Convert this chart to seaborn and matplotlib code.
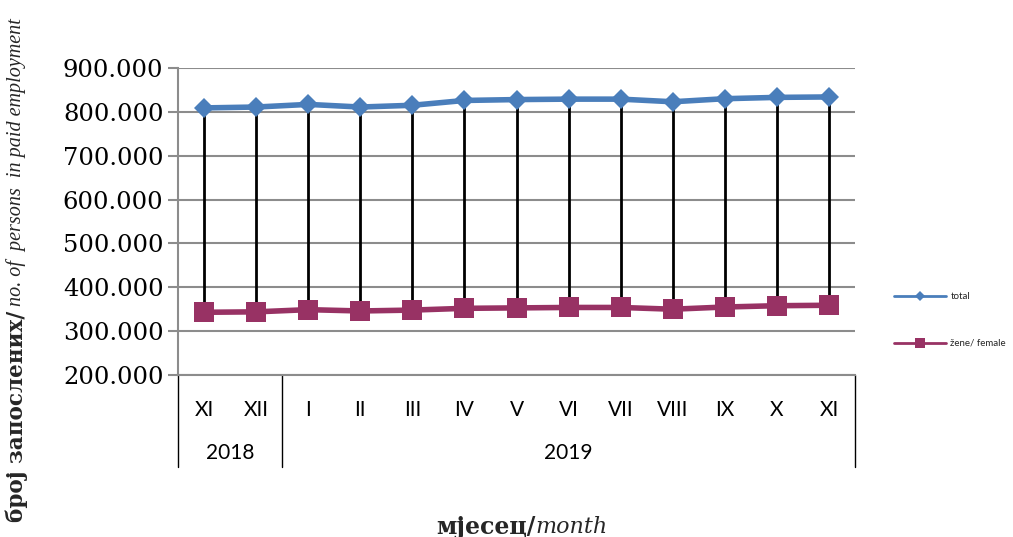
import matplotlib
matplotlib.use("Agg")
import matplotlib.pyplot as plt
import matplotlib.transforms as mtransforms
from matplotlib.lines import Line2D
from matplotlib.ticker import FuncFormatter, MultipleLocator
import seaborn as sns
import pandas as pd
import numpy as np

months = ["XI", "XII", "I", "II", "III", "IV", "V", "VI", "VII", "VIII", "IX", "X", "XI"]
years = ["2018", "2019"]
year_spans = [(0, 1), (2, 12)]
total = [809000, 811000, 817000, 811000, 815000, 826000, 828000, 829000, 829000, 823000, 830000, 833000, 834000]
female = [343000, 344000, 349000, 346000, 348000, 352000, 353000, 354000, 354000, 350000, 355000, 358000, 359000]
series_names = ["total", "žene/ female"]

sns.set_theme(style="white")
plt.rcParams['font.family'] = ['DejaVu Serif']

df = pd.DataFrame({"idx": np.arange(len(months)), "total": total, "female": female})

fig = plt.figure(figsize=(10.13, 5.37), dpi=100)
ax = fig.add_axes([178/1013, 1-375/537, (855-178)/1013, (375-68)/537])

blue = "#4A7EBB"
maroon = "#983264"

# high-low lines
ax.vlines(df["idx"], df["female"], df["total"], color="black", lw=2, zorder=2)

sns.lineplot(data=df, x="idx", y="total", ax=ax, color=blue, lw=4, marker="D",
             markersize=10, markeredgewidth=0, zorder=3)
sns.lineplot(data=df, x="idx", y="female", ax=ax, color=maroon, lw=4, marker="s",
             markersize=14, markeredgewidth=0, zorder=3)

ax.set_xlim(-0.5, len(months) - 0.5)
ax.set_ylim(200000, 900000)
ax.yaxis.set_major_locator(MultipleLocator(100000))
ax.yaxis.set_major_formatter(FuncFormatter(lambda v, p: f"{int(v):,}".replace(",", ".")))
ax.grid(axis="y", color="#8C8C8C", lw=1.5)
ax.set_axisbelow(True)
for s in ["top", "right"]:
    ax.spines[s].set_visible(False)
ax.spines["left"].set_color("#8C8C8C")
ax.spines["left"].set_linewidth(1.5)
ax.spines["bottom"].set_color("#8C8C8C")
ax.spines["bottom"].set_linewidth(1.5)
ax.tick_params(axis="y", which="major", left=True, length=7, width=1.5, color="#8C8C8C",
               labelsize=17.5, pad=3.5, labelcolor="black")
ax.set_xticks([])
ax.set_xlabel("")
ax.set_ylabel("")

# category labels
trans = mtransforms.blended_transform_factory(ax.transData, ax.transAxes)
for i, m in enumerate(months):
    ax.text(i, -0.114, m, transform=trans, ha="center", va="center", fontsize=15,
            family="Lato", color="black")
for y, (a, b) in zip(years, year_spans):
    ax.text((a + b) / 2, -0.254, y, transform=trans, ha="center", va="center", fontsize=15,
            family="Lato", color="black")
for xs in [-0.5, year_spans[0][1] + 0.5, len(months) - 0.5]:
    ax.plot([xs, xs], [0, -0.30], transform=trans, color="black", lw=1, clip_on=False)

# legend
handles = [Line2D([], [], color=blue, lw=2, marker="D", markersize=5, markeredgewidth=0),
           Line2D([], [], color=maroon, lw=2, marker="s", markersize=7, markeredgewidth=0)]
leg = fig.legend(handles, series_names, loc="center left", bbox_to_anchor=(891/1013, 1-320/537),
                 frameon=False, prop={"family": "Lato", "size": 7}, handlelength=5.4,
                 labelspacing=3.9, handletextpad=0.4, borderaxespad=0, borderpad=0.3)

# y label mixed styles
fig.canvas.draw()
r = fig.canvas.get_renderer()
t1 = fig.text(17/1013, 1-522/537, "број запослених/", rotation=90, ha="center", va="bottom",
              fontsize=15.5, fontweight="bold", family="DejaVu Serif")
bb = t1.get_window_extent(r)
fig.text(16/1013, bb.y1/fig.bbox.height, " no. of  persons  in paid employment", rotation=90,
         ha="center", va="bottom", fontsize=14.5, style="italic", family="Liberation Serif")

# x label mixed styles
t2 = fig.text(436/1013, 1-527/537, "мјесец/", ha="left", va="center", fontsize=17,
              fontweight="bold", family="DejaVu Serif")
bb2 = t2.get_window_extent(r)
fig.text(bb2.x1/fig.bbox.width, 1-527/537, "month", ha="left", va="center", fontsize=16,
         style="italic", family="DejaVu Serif")

fig.savefig("out.png", dpi=100)
